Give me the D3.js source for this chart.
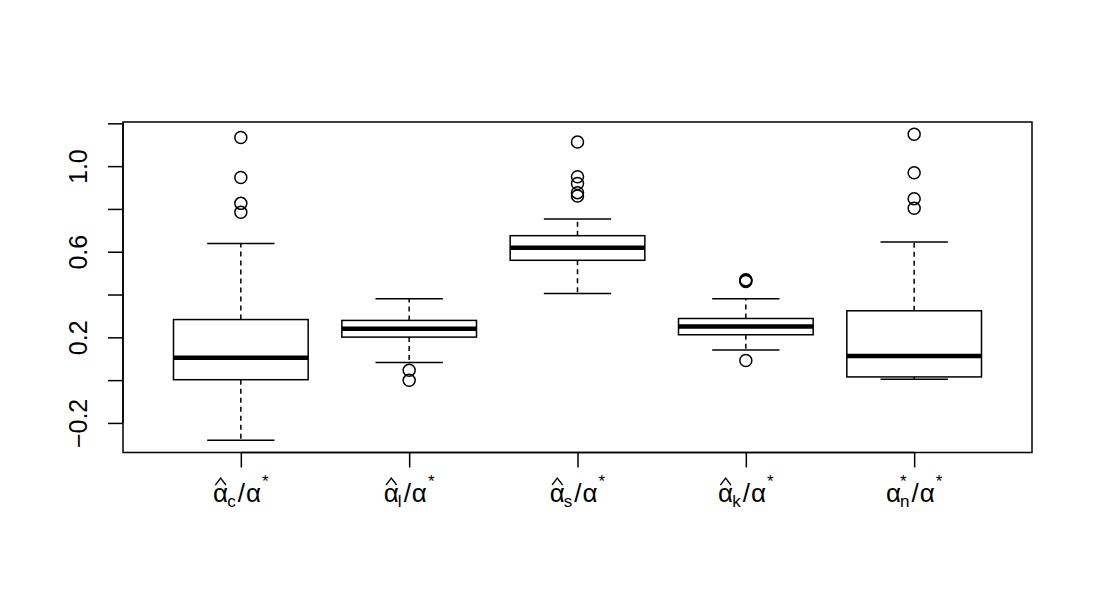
<!DOCTYPE html>
<html>
<head>
<meta charset="utf-8">
<script src="https://cdn.jsdelivr.net/npm/d3@7"></script>
<style>
  body { margin: 0; background: #fff; }
  svg { display: block; font-family: "Liberation Sans", Arial, sans-serif; }
</style>
</head>
<body>
<svg width="1094" height="607"></svg>
<script>
// box statistics, one entry per group
const subs = ["c", "l", "s", "k", "n"];
const hats = [true, true, true, true, false];
const starOnFirst = [false, false, false, false, true];
const lowerWhisker = [-0.281, 0.082, 0.405, 0.141, 0.004];
const q1 = [0.002, 0.201, 0.560, 0.212, 0.015];
const median = [0.105, 0.240, 0.618, 0.251, 0.113];
const q3 = [0.283, 0.279, 0.675, 0.288, 0.324];
const upperWhisker = [0.638, 0.380, 0.753, 0.380, 0.646];
const outliers = [
  [1.134, 0.947, 0.826, 0.784],
  [0.046, -0.001],
  [1.113, 0.950, 0.919, 0.876, 0.860],
  [0.469, 0.465, 0.461, 0.092],
  [1.149, 0.969, 0.848, 0.803]
];
const yTicks = [-0.2, 0, 0.2, 0.4, 0.6, 0.8, 1.0, 1.2];
const yLabels = [-0.2, 0.2, 0.6, 1.0];

let svg = d3.select('svg');

// plot region
let pLeft = 123, pRight = 1032, pTop = 122, pBottom = 452.5;

// y range like R: data range stretched by 4%
let all = lowerWhisker.concat(upperWhisker, outliers.flat());
let ext = d3.extent(all);
let pad = (ext[1] - ext[0]) * 0.04;
let yScale = d3.scaleLinear().domain([ext[0] - pad, ext[1] + pad]).range([pBottom, pTop]);
let n = subs.length;
let xScale = d3.scaleLinear().domain([0.5 - 0.04 * n, n + 0.5 + 0.04 * n]).range([pLeft, pRight]);

let groups = d3.range(n).map(function (i) {
  return {i: i, pos: i + 1, lo: lowerWhisker[i], q1: q1[i], med: median[i], q3: q3[i], hi: upperWhisker[i], out: outliers[i]};
});

let lw = 1.5;

// boxes
let g = svg.append('g').attr('stroke', '#000').attr('fill', 'none').attr('stroke-width', lw);
let box = g.selectAll('g.box').data(groups).enter().append('g').attr('class', 'box');

// dashed whiskers
box.append('line')
  .attr('x1', d => xScale(d.pos)).attr('x2', d => xScale(d.pos))
  .attr('y1', d => yScale(d.q3)).attr('y2', d => yScale(d.hi))
  .attr('stroke-dasharray', '5,4');
box.append('line')
  .attr('x1', d => xScale(d.pos)).attr('x2', d => xScale(d.pos))
  .attr('y1', d => yScale(d.q1)).attr('y2', d => yScale(d.lo))
  .attr('stroke-dasharray', '5,4');
// caps
box.append('line')
  .attr('x1', d => xScale(d.pos - 0.2)).attr('x2', d => xScale(d.pos + 0.2))
  .attr('y1', d => yScale(d.hi)).attr('y2', d => yScale(d.hi));
box.append('line')
  .attr('x1', d => xScale(d.pos - 0.2)).attr('x2', d => xScale(d.pos + 0.2))
  .attr('y1', d => yScale(d.lo)).attr('y2', d => yScale(d.lo));
// box
box.append('rect')
  .attr('x', d => xScale(d.pos - 0.4))
  .attr('width', d => xScale(d.pos + 0.4) - xScale(d.pos - 0.4))
  .attr('y', d => yScale(d.q3))
  .attr('height', d => yScale(d.q1) - yScale(d.q3))
  .attr('fill', '#fff');
// median
box.append('line')
  .attr('x1', d => xScale(d.pos - 0.4)).attr('x2', d => xScale(d.pos + 0.4))
  .attr('y1', d => yScale(d.med)).attr('y2', d => yScale(d.med))
  .attr('stroke-width', 4.5);
// outliers
box.selectAll('circle').data(d => d.out.map(v => ({pos: d.pos, v: v}))).enter()
  .append('circle')
  .attr('cx', d => xScale(d.pos)).attr('cy', d => yScale(d.v))
  .attr('r', 6);

// frame
svg.append('rect')
  .attr('x', pLeft).attr('y', pTop)
  .attr('width', pRight - pLeft).attr('height', pBottom - pTop)
  .attr('fill', 'none').attr('stroke', '#000').attr('stroke-width', lw);

// y axis
let fmt = d3.format('.1f');
let yAxis = svg.append('g')
  .attr('transform', 'translate(' + pLeft + ',0)')
  .call(d3.axisLeft(yScale).tickValues(yTicks).tickSize(15).tickSizeOuter(0)
    .tickFormat(d => yLabels.some(v => Math.abs(v - d) < 1e-9) ? fmt(d) : ''));
yAxis.select('.domain').remove();
yAxis.selectAll('line').attr('stroke-width', lw);
yAxis.append('line')
  .attr('y1', yScale(yTicks[0])).attr('y2', yScale(yTicks[yTicks.length - 1]))
  .attr('stroke', '#000').attr('stroke-width', lw);
yAxis.selectAll('text')
  .attr('x', 0).attr('y', 0).attr('dy', null)
  .attr('transform', 'translate(-36,0) rotate(-90)')
  .attr('text-anchor', 'middle')
  .attr('font-size', '25px').attr('font-family', '"Liberation Sans", Arial, sans-serif')
  .attr('fill', '#000');

// x axis ticks only
let xAxis = svg.append('g')
  .attr('transform', 'translate(0,' + pBottom + ')')
  .call(d3.axisBottom(xScale).tickValues(d3.range(1, n + 1)).tickSize(15).tickSizeOuter(0).tickFormat(''));
xAxis.select('.domain').remove();
xAxis.selectAll('line').attr('stroke-width', lw);
xAxis.append('line')
  .attr('x1', xScale(1)).attr('x2', xScale(n))
  .attr('stroke', '#000').attr('stroke-width', lw);

// x labels: hat(alpha)[sub] / alpha^*
let mainSize = 26, scriptSize = 17;
groups.forEach(function (d) {
  let lg = svg.append('g');
  let cur = 0;
  function piece(txt, size, dy) {
    return lg.append('text').attr('x', cur).attr('y', dy)
      .attr('font-size', size + 'px').text(txt);
  }
  let a = piece('α', mainSize, 0);
  let aw = a.node().getComputedTextLength();
  if (hats[d.i]) {
    lg.append('path')
      .attr('d', 'M' + (cur + aw * 0.15) + ',-17 L' + (cur + aw * 0.5) + ',-24 L' + (cur + aw * 0.85) + ',-17')
      .attr('fill', 'none').attr('stroke', '#000').attr('stroke-width', 1.3);
  }
  cur += aw - 1;
  let s = piece(subs[d.i], scriptSize, 5);
  let sw = s.node().getComputedTextLength();
  if (starOnFirst[d.i]) {
    let st = piece('*', scriptSize, -15);
    sw = Math.max(sw, st.node().getComputedTextLength());
  }
  cur += sw + 2;
  let sl = piece('/', mainSize, 0);
  cur += sl.node().getComputedTextLength() + 1;
  let a2 = piece('α', mainSize, 0);
  cur += a2.node().getComputedTextLength() + 1;
  let st2 = piece('*', scriptSize, -15);
  cur += st2.node().getComputedTextLength();
  lg.attr('transform', 'translate(' + (xScale(d.pos) - cur / 2) + ',502)');
});
</script>
</body>
</html>
